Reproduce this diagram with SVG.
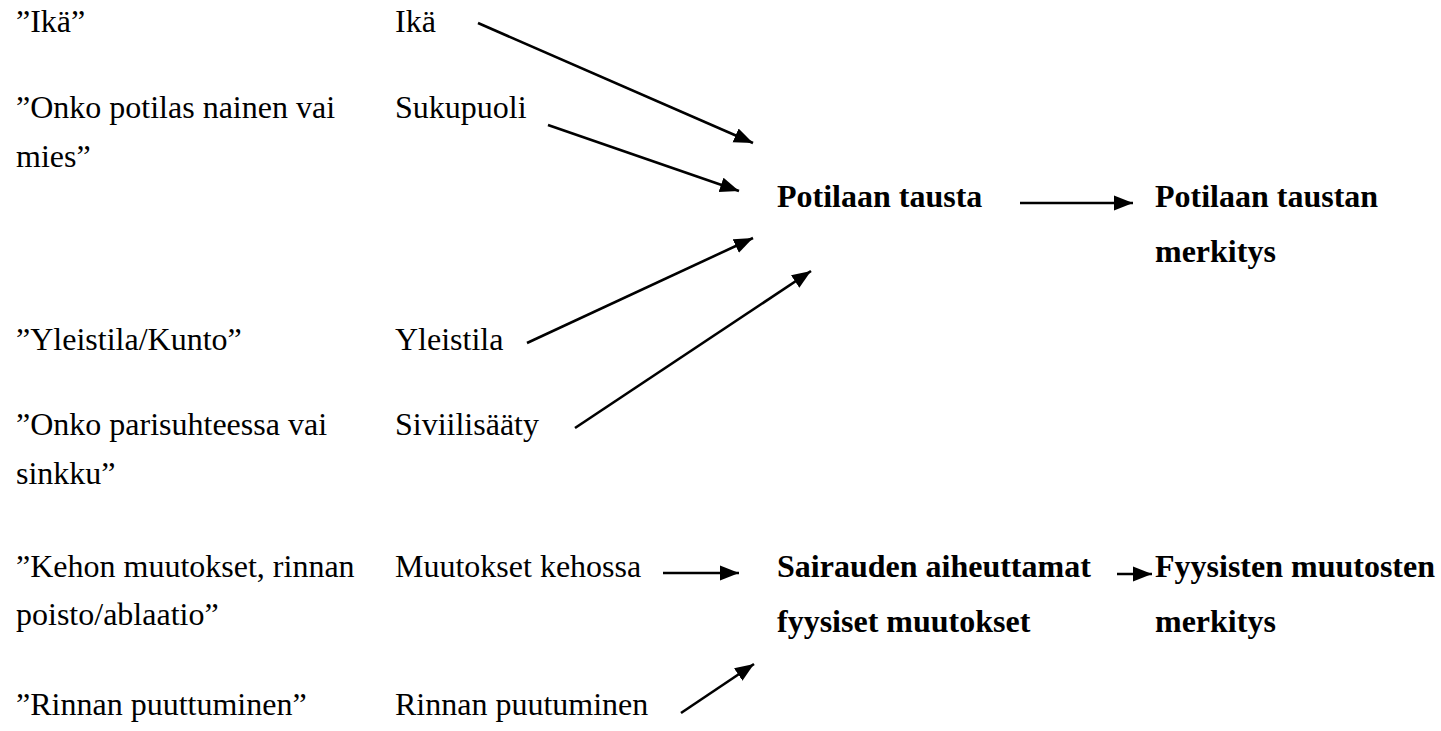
<svg xmlns="http://www.w3.org/2000/svg" width="1441" height="731" viewBox="0 0 1441 731">
<style>
text{font-family:'Liberation Serif','Times New Roman',Tinos,'DejaVu Serif',serif;font-size:32px;fill:#000}
.b{font-weight:bold}
.c line{stroke:#000;stroke-width:2.6;marker-end:url(#ah)}
</style>
<defs>
<marker id="ah" markerUnits="userSpaceOnUse" markerWidth="22" markerHeight="17" refX="19" refY="8" orient="auto">
<path d="M0,0.5 L19,8 L0,15.5 z" fill="#000"/>
</marker>
</defs>
<rect width="1441" height="731" fill="#fff"/>
<g id="quotes">
<text x="16" y="32">”Ikä”</text>
<text x="16" y="118">”Onko potilas nainen vai</text>
<text x="16" y="167">mies”</text>
<text x="16" y="350">”Yleistila/Kunto”</text>
<text x="16" y="435">”Onko parisuhteessa vai</text>
<text x="16" y="484">sinkku”</text>
<text x="16" y="577">”Kehon muutokset, rinnan</text>
<text x="16" y="625">poisto/ablaatio”</text>
<text x="16" y="715">”Rinnan puuttuminen”</text>
</g>
<g id="ika"><text x="395" y="32">Ikä</text></g>
<g id="sukupuoli"><text x="395" y="118">Sukupuoli</text></g>
<g id="yleistila"><text x="395" y="350">Yleistila</text></g>
<g id="siviilisaaty"><text x="395" y="435">Siviilisääty</text></g>
<g id="muutokset"><text x="395" y="577">Muutokset kehossa</text></g>
<g id="rinnan"><text x="395" y="715">Rinnan puutuminen</text></g>
<g id="tausta"><text class="b" x="777" y="207">Potilaan tausta</text></g>
<g id="taustan-merkitys"><text class="b" x="1155" y="207">Potilaan taustan</text><text class="b" x="1155" y="262">merkitys</text></g>
<g id="fyysiset"><text class="b" x="777" y="577">Sairauden aiheuttamat</text><text class="b" x="777" y="632">fyysiset muutokset</text></g>
<g id="fyysisten-merkitys"><text class="b" x="1155" y="577">Fyysisten muutosten</text><text class="b" x="1155" y="632">merkitys</text></g>
<g id="connectors" class="c">
<line x1="478" y1="23" x2="753" y2="143"/>
<line x1="548" y1="125" x2="739" y2="191"/>
<line x1="527" y1="343" x2="753" y2="238"/>
<line x1="575" y1="428" x2="811" y2="271"/>
<line x1="1020" y1="203" x2="1133" y2="203"/>
<line x1="663" y1="573" x2="739" y2="573"/>
<line x1="681" y1="713" x2="754" y2="664"/>
<line x1="1117" y1="574" x2="1152" y2="574"/>
</g>
</svg>
